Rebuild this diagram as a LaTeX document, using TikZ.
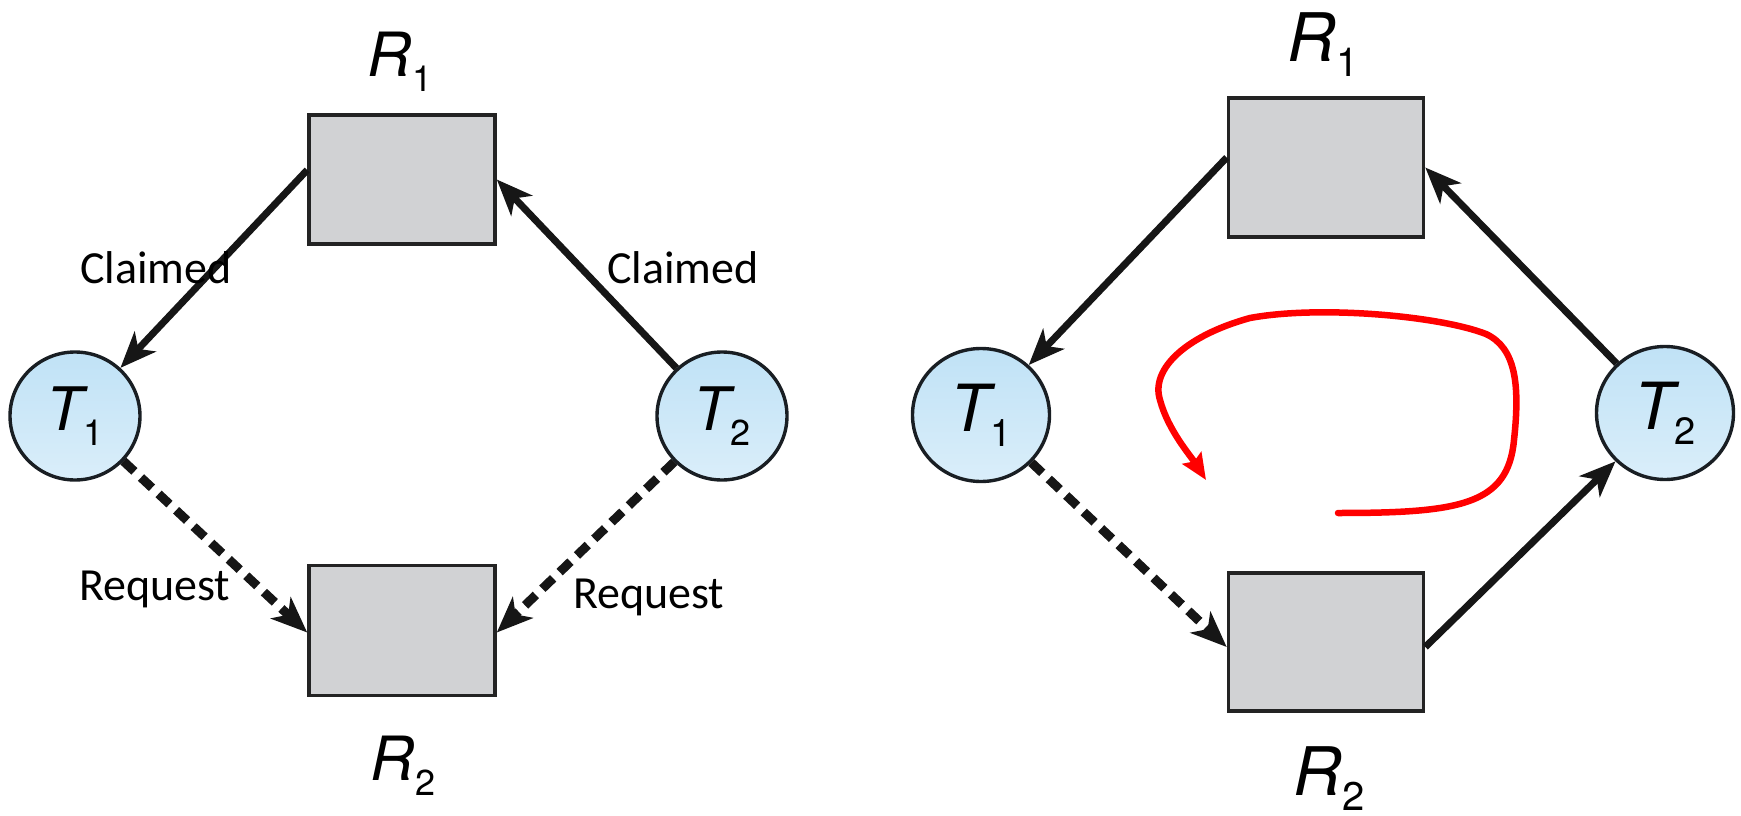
\documentclass[tikz,border=0pt]{standalone}
\usepackage{fontspec}
\setmainfont{TeX Gyre Heros}
\newfontfamily\edgefont{Carlito}
\usetikzlibrary{arrows.meta,shapes.geometric}

\newcommand\sublabel[4]{{\fontsize{#1}{#1}\selectfont\itshape #2}\raisebox{-15pt}{\fontsize{#3}{#3}\selectfont #4}}

\tikzset{
  res/.style={rectangle, draw={rgb,255:red,35;green,35;blue,35}, line width=3.6pt,
    fill={rgb,255:red,209;green,210;blue,212}, inner sep=0pt},
  thr/.style={ellipse, draw={rgb,255:red,25;green,30;blue,35}, line width=3.4pt,
    top color={rgb,255:red,192;green,226;blue,246},
    bottom color={rgb,255:red,218;green,238;blue,250}, inner sep=0pt},
  claim/.style={-{Stealth[length=36pt,width=29pt,inset=10pt]}, line width=7pt,
    draw={rgb,255:red,22;green,22;blue,22}},
  req/.style={claim, dash pattern=on 15pt off 9pt, line width=9pt},
  edgelbl/.style={inner sep=0pt, anchor=base west, font=\edgefont\fontsize{46pt}{46pt}\selectfont},
  reslbl/.style={inner sep=0pt, anchor=base},
  cyc/.style={-{Stealth[length=26pt,width=22pt,inset=4pt]}, line width=6.5pt,
    draw={rgb,255:red,255;green,0;blue,0}, line cap=round}
}

\begin{document}
\begin{tikzpicture}[x=1pt,y=-1pt]
\useasboundingbox (0,0) rectangle (1741,816);

% ---------- left diagram ----------
\node[res, minimum width=186pt, minimum height=129pt] (lR1) at (402,179.5) {};
\node[res, minimum width=186pt, minimum height=130pt] (lR2) at (402,630.5) {};
\node[thr, minimum width=130pt, minimum height=128pt] (lT1) at (75,416)
  {\sublabel{60pt}{T}{36pt}{1}};
\node[thr, minimum width=130pt, minimum height=128pt] (lT2) at (722,416)
  {\sublabel{60pt}{T}{36pt}{2}};

\node[reslbl] (lR1l) at (400,77) {\sublabel{61pt}{R}{36pt}{1}};
\node[reslbl] (lR2l) at (403,780) {\sublabel{61pt}{R}{36pt}{2}};

\draw[claim] ([yshift=9.5pt]lR1.west) -- (lT1);
\draw[claim] (lT2) -- (lR1.east);
\draw[req] (lT1) -- ([yshift=-2pt]lR2.west);
\draw[req] (lT2) -- ([yshift=-2pt]lR2.east);

\node[edgelbl] (lc1) at (80,283) {Claimed};
\node[edgelbl] (lc2) at (607,283) {Claimed};
\node[edgelbl] (lq1) at (79,600) {Request};
\node[edgelbl] (lq2) at (573,608) {Request};

% ---------- right diagram ----------
\node[res, minimum width=195pt, minimum height=139pt] (rR1) at (1326,167.5) {};
\node[res, minimum width=195pt, minimum height=138pt] (rR2) at (1326,642) {};
\node[thr, minimum width=137pt, minimum height=133pt] (rT1) at (981,415)
  {\sublabel{65pt}{T}{38pt}{1}};
\node[thr, minimum width=137pt, minimum height=133pt] (rT2) at (1665,413)
  {\sublabel{65pt}{T}{38pt}{2}};

\node[reslbl] (rR1l) at (1323,62) {\sublabel{67pt}{R}{40pt}{1}};
\node[reslbl] (rR2l) at (1329,795) {\sublabel{67pt}{R}{40pt}{2}};

\draw[claim] ([yshift=10pt]rR1.west) -- (rT1);
\draw[claim] (rT2) -- (rR1.east);
\draw[req] (rT1) -- ([yshift=-5pt]rR2.west);
\draw[claim] ([yshift=-5pt]rR2.east) -- (rT2);

% red cycle arrow
\draw[cyc] (1338,513) .. controls (1460,513) and (1508,505) .. (1514,440)
  .. controls (1520,385) and (1516,348) .. (1486,334)
  .. controls (1440,316) and (1320,305) .. (1250,318)
  .. controls (1188,335) and (1150,368) .. (1160,400)
  .. controls (1168,430) and (1190,455) .. (1206,480);
\end{tikzpicture}
\end{document}
